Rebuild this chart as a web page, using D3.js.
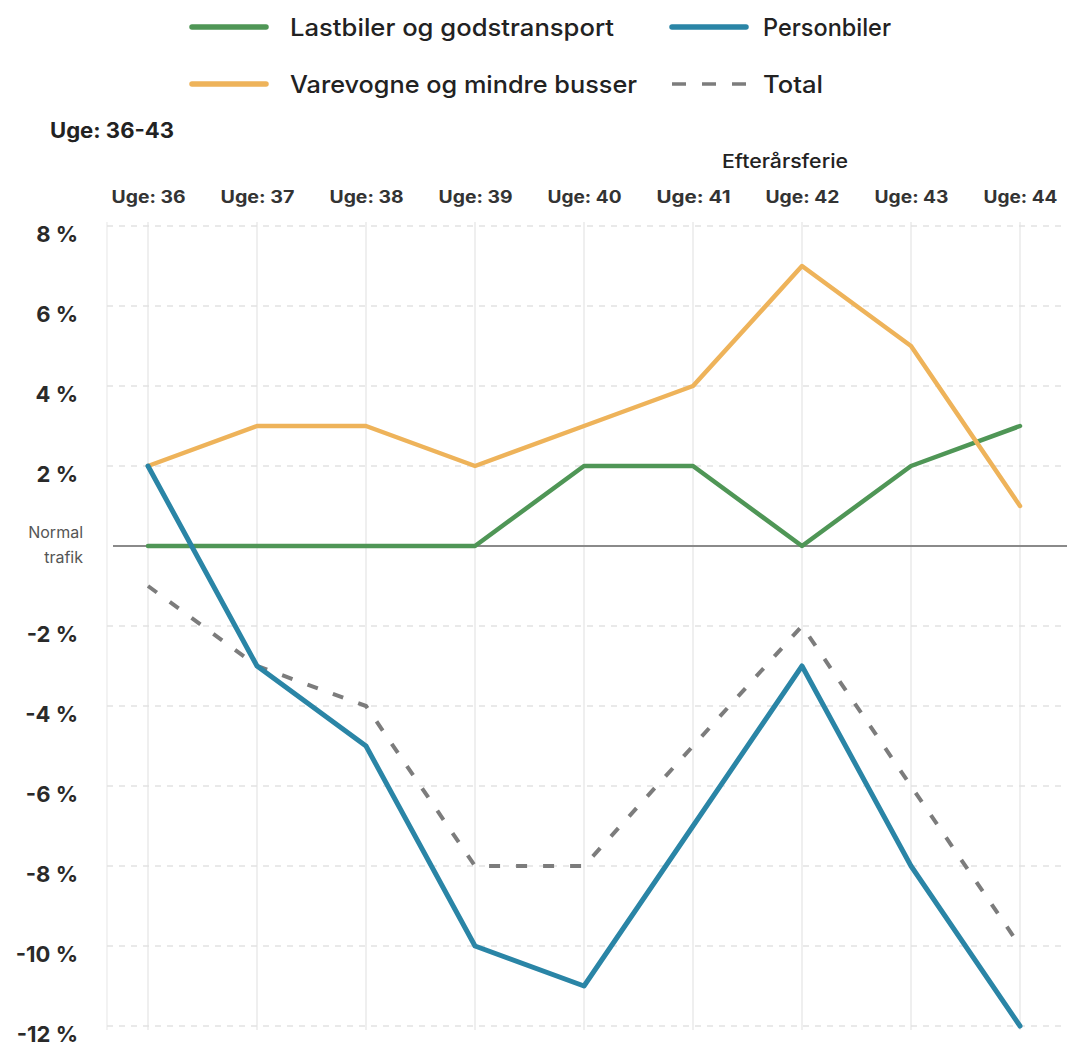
<!DOCTYPE html>
<html>
<head>
<meta charset="utf-8">
<script src="https://cdn.jsdelivr.net/npm/d3@7"></script>
<style>
  html, body { margin: 0; padding: 0; background: #fff; }
  svg { display: block; font-family: Inter, "Noto Sans", sans-serif; }
</style>
</head>
<body>
<svg id="chart" width="1067" height="1050"></svg>
<script>
// Weekly traffic change relative to normal traffic, weeks 36–44
const weeks = ["Uge: 36", "Uge: 37", "Uge: 38", "Uge: 39", "Uge: 40", "Uge: 41", "Uge: 42", "Uge: 43", "Uge: 44"];
const lastbiler = [0, 0, 0, 0, 2, 2, 0, 2, 3];
const varevogne = [2, 3, 3, 2, 3, 4, 7, 5, 1];
const personbiler = [2, -3, -5, -10, -11, -7, -3, -8, -12];
const total = [-1, -3, -4, -8, -8, -5, -2, -6, -10];
const yTicks = [8, 6, 4, 2, -2, -4, -6, -8, -10, -12];

const series = [
  { name: "Lastbiler og godstransport", values: lastbiler, color: "#4f9656", width: 4.5, dash: null },
  { name: "Varevogne og mindre busser", values: varevogne, color: "#eeb35a", width: 4.5, dash: null },
  { name: "Personbiler", values: personbiler, color: "#2a85a6", width: 5, dash: null },
  { name: "Total", values: total, color: "#7c7c7c", width: 4, dash: "11,16" }
];

const svg = d3.select("#chart");

const x = d3.scalePoint().domain(weeks).range([148, 1020]);
const y = d3.scaleLinear().domain([-12, 8]).range([1026, 226]);

// Grid: vertical week lines and dashed horizontal percentage lines
const grid = svg.append("g");
grid.selectAll("line.v").data(weeks).join("line")
  .attr("x1", d => x(d)).attr("x2", d => x(d))
  .attr("y1", 222).attr("y2", 1030)
  .attr("stroke", "#e6e6e6").attr("stroke-width", 1.3);
grid.append("line").attr("x1", 107).attr("x2", 107).attr("y1", 222).attr("y2", 1030)
  .attr("stroke", "#ececec").attr("stroke-width", 1.3);
grid.selectAll("line.h").data(yTicks).join("line")
  .attr("x1", 107).attr("x2", 1067)
  .attr("y1", d => y(d)).attr("y2", d => y(d))
  .attr("stroke", "#e2e2e2").attr("stroke-width", 1.3).attr("stroke-dasharray", "6,6");

// Baseline: normal traffic
svg.append("line").attr("x1", 113).attr("x2", 1067)
  .attr("y1", y(0)).attr("y2", y(0))
  .attr("stroke", "#8a8a8a").attr("stroke-width", 2);

// Y axis labels
const yAxis = d3.axisLeft(y).tickValues(yTicks).tickFormat(d => d + " %").tickSize(0).tickPadding(0);
const yg = svg.append("g").attr("transform", "translate(78,0)").call(yAxis);
yg.select(".domain").remove();
yg.selectAll("text").attr("font-size", 22).attr("font-weight", 700).attr("fill", "#2a2a2a")
  .attr("font-family", "Inter, sans-serif").attr("dy", "0.7em");

svg.append("text").attr("x", 83).attr("y", 538).attr("text-anchor", "end")
  .attr("font-size", 16).attr("fill", "#555").text("Normal");
svg.append("text").attr("x", 83).attr("y", 563).attr("text-anchor", "end")
  .attr("font-size", 16).attr("fill", "#555").text("trafik");

// X axis labels on top
const xAxis = d3.axisTop(x).tickSize(0).tickPadding(0);
const xg = svg.append("g").attr("transform", "translate(0,203)").call(xAxis);
xg.select(".domain").remove();
xg.selectAll("text").attr("font-size", 17).attr("font-weight", 700).attr("fill", "#333")
  .attr("font-family", "Inter, sans-serif")
  .attr("textLength", 74).attr("lengthAdjust", "spacingAndGlyphs");

svg.append("text").attr("x", 50).attr("y", 138)
  .attr("font-size", 21).attr("font-weight", 700).attr("fill", "#222")
  .attr("textLength", 124).attr("lengthAdjust", "spacingAndGlyphs").text("Uge: 36-43");
svg.append("text").attr("x", 722).attr("y", 168)
  .attr("font-size", 19).attr("font-weight", 500).attr("fill", "#222")
  .attr("textLength", 126).attr("lengthAdjust", "spacingAndGlyphs").text("Efterårsferie");

// Series lines
const line = d3.line().x((d, i) => x(weeks[i])).y(d => y(d));
const drawOrder = [series[3], series[0], series[1], series[2]];
svg.append("g").selectAll("path").data(drawOrder).join("path")
  .attr("d", d => line(d.values))
  .attr("fill", "none")
  .attr("stroke", d => d.color)
  .attr("stroke-width", d => d.width)
  .attr("stroke-dasharray", d => d.dash)
  .attr("stroke-linejoin", "round")
  .attr("stroke-linecap", d => d.dash ? "butt" : "round");

// Legend
const legendItems = [
  { s: series[0], lx: 192, ly: 27, tw: 324 },
  { s: series[2], lx: 672, ly: 27, tw: 128 },
  { s: series[1], lx: 192, ly: 84, tw: 347 },
  { s: series[3], lx: 672, ly: 84, tw: 60 }
];
const lg = svg.append("g");
legendItems.forEach(({ s, lx, ly, tw }) => {
  lg.append("line").attr("x1", lx).attr("x2", lx + 74).attr("y1", ly).attr("y2", ly)
    .attr("stroke", s.color).attr("stroke-width", s.dash ? 3.5 : 5.5)
    .attr("stroke-dasharray", s.dash ? "14,16" : null)
    .attr("stroke-linecap", s.dash ? "butt" : "round");
  lg.append("text").attr("x", lx + (s.dash || s === series[2] ? 91 : 98)).attr("y", ly + 9)
    .attr("font-size", 24).attr("font-weight", 500).attr("fill", "#222")
    .attr("textLength", tw).attr("lengthAdjust", "spacingAndGlyphs").text(s.name);
});
</script>
</body>
</html>
